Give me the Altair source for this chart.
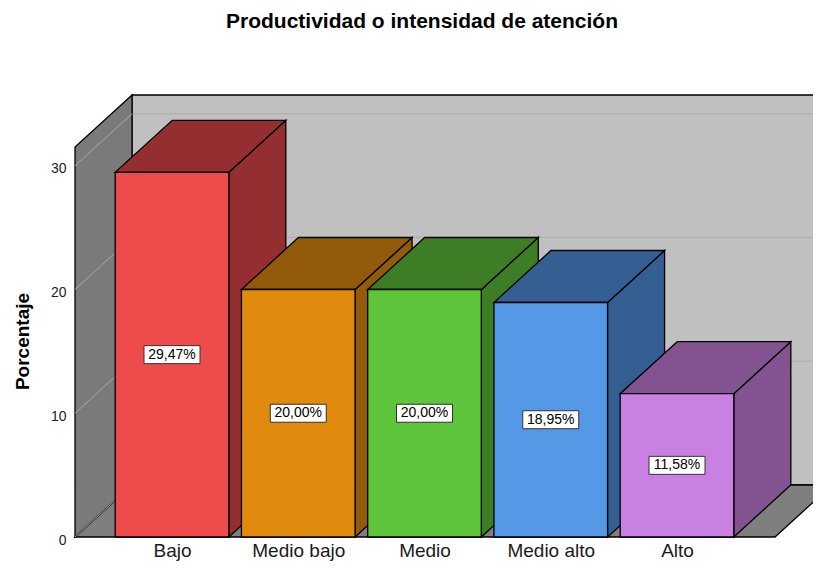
import json
import altair as alt
import pandas as pd

# ---- data ----
categories = ["Bajo", "Medio bajo", "Medio", "Medio alto", "Alto"]
values = [29.47, 20.00, 20.00, 18.95, 11.58]
front_colors = ["#EE4B4C", "#E08A0E", "#5EC43A", "#5599E6", "#C880E2"]
side_colors = ["#952E30", "#925A0A", "#3D7D26", "#355F92", "#835290"]
y_ticks = [0, 10, 20, 30]
title_text = "Productividad o intensidad de atención"
y_title = "Porcentaje"

# ---- layout constants (pixel geometry of the pseudo-3D frame) ----
PX_X = 126.25          # px per category step
PX_Y = 12.375          # px per percentage point
HALF = 0.45            # half bar width in category steps
DX = 57 / PX_X         # depth offset, x (data units)
DY = 52 / PX_Y         # depth offset, y (data units)
W, H = 738, 442
XL = (75 - 172) / PX_X
XR = XL + W / PX_X
YT = H / PX_Y
XF = (775 - 172) / PX_X
SW = 1.3

xs = alt.Scale(domain=[XL, XR], nice=False, zero=False)
ys = alt.Scale(domain=[0, YT], nice=False, zero=False)
side_scale = alt.Scale(domain=categories, range=side_colors)
front_scale = alt.Scale(domain=categories, range=front_colors)

FONT = "Liberation Sans"
label_expr = json.dumps(categories) + "[datum.value]"

x_axis = alt.Axis(
    values=list(range(len(categories))), labelExpr=label_expr,
    labelFont=FONT, labelFontSize=19, labelColor="#1A1A1A",
    ticks=False, domain=False, grid=False, labelPadding=19,
    labelBaseline="alphabetic", labelFlush=False, labelOverlap=False,
    title=None)
y_axis = alt.Axis(
    values=y_ticks, title=y_title, titleFont=FONT, titleFontSize=19,
    titleFontWeight="bold", titleColor="black", titleAngle=270,
    titleX=-47, titleY=246, titleAlign="center", titleBaseline="alphabetic",
    labelFont=FONT, labelFontSize=14, labelColor="#222222",
    labelPadding=9, labelOffset=3, ticks=False, domain=False, grid=False)


def X(field):
    return alt.X(field, scale=xs, axis=x_axis)


def Y(field, **kw):
    return alt.Y(field, scale=ys, axis=y_axis, **kw)


# ---- derived tables ----
front = pd.DataFrame({
    "cat": categories,
    "i": list(range(len(categories))),
    "v": values,
})
front["x0"] = front["i"] - HALF
front["x1"] = front["i"] + HALF
front["mid"] = front["v"] / 2
front["zero"] = 0.0
front["label"] = [f"{v:.2f}".replace(".", ",") + "%" for v in values]

top_rows, side_rows = [], []
for c, i, v in zip(categories, range(len(categories)), values):
    x0, x1 = i - HALF, i + HALF
    top_rows += [
        {"cat": c, "x": x0, "lo": v, "hi": v},
        {"cat": c, "x": x0 + DX, "lo": v, "hi": v + DY},
        {"cat": c, "x": x1, "lo": v, "hi": v + DY},
        {"cat": c, "x": x1 + DX, "lo": v + DY, "hi": v + DY},
    ]
    side_rows += [
        {"cat": c, "x": x1, "lo": 0, "hi": v},
        {"cat": c, "x": x1 + DX, "lo": DY, "hi": v + DY},
    ]
top = pd.DataFrame(top_rows)
side = pd.DataFrame(side_rows)

back_wall = pd.DataFrame([{"x": XL + DX, "x2": XR + 0.3, "y": DY, "y2": YT}])
left_wall = pd.DataFrame([
    {"x": XL, "lo": 0, "hi": YT - DY},
    {"x": XL + DX, "lo": DY, "hi": YT},
])
floor = pd.DataFrame([
    {"x": XL, "lo": 0, "hi": 0},
    {"x": XL + DX, "lo": 0, "hi": DY},
    {"x": XF, "lo": 0, "hi": DY},
    {"x": XF + DX, "lo": DY, "hi": DY},
])
back_grid = pd.DataFrame({"y": [t + DY for t in y_ticks[1:]]})
back_grid["x"] = XL + DX
back_grid["x2"] = XR + 0.3
left_grid = pd.DataFrame({"y": y_ticks, "y2": [t + DY for t in y_ticks]})
left_grid["x"] = XL
left_grid["x2"] = XL + DX

bw = alt.Chart(back_wall).mark_rect(fill="#C0C0C0", stroke="black", strokeWidth=SW).encode(
    x=X("x:Q"), x2="x2:Q", y=Y("y:Q"), y2="y2:Q")

bg = alt.Chart(back_grid).mark_rule(color="#B2B2B2", strokeWidth=1.5).encode(
    x=X("x:Q"), x2="x2:Q", y=Y("y:Q"))

fl = alt.Chart(floor).mark_area(fill="#7F7F7F", stroke="black", strokeWidth=SW).encode(
    x=X("x:Q"), y=Y("lo:Q", stack=None), y2="hi:Q")

lw = alt.Chart(left_wall).mark_area(fill="#7A7A7A", stroke="black", strokeWidth=SW).encode(
    x=X("x:Q"), y=Y("lo:Q", stack=None), y2="hi:Q")

lg = alt.Chart(left_grid).mark_rule(color="#A8A8A8", strokeWidth=1).encode(
    x=X("x:Q"), x2="x2:Q", y=Y("y:Q"), y2="y2:Q")

sd = alt.Chart(side).mark_area(stroke="black", strokeWidth=SW, opacity=1).encode(
    x=X("x:Q"), y=Y("lo:Q", stack=None), y2="hi:Q",
    color=alt.Color("cat:N", scale=side_scale, legend=None),
    detail="cat:N")

tp = alt.Chart(top).mark_area(stroke="black", strokeWidth=SW, opacity=1).encode(
    x=X("x:Q"), y=Y("lo:Q", stack=None), y2="hi:Q",
    fill=alt.Fill("cat:N", scale=side_scale, legend=None),
    detail="cat:N")

fr = alt.Chart(front).mark_rect(stroke="black", strokeWidth=SW, opacity=1).encode(
    x=X("x0:Q"), x2="x1:Q", y=Y("v:Q"), y2="zero:Q",
    fill=alt.Fill("cat:N", scale=front_scale, legend=None))

box = alt.Chart(front).mark_point(
    shape="M-1,-0.3214L1,-0.3214L1,0.3214L-1,0.3214Z", size=3136,
    filled=True, fill="white", stroke="#333333", strokeWidth=1, opacity=1).encode(
    x=X("i:Q"), y=Y("mid:Q"))

txt = alt.Chart(front).mark_text(font=FONT, fontSize=14, color="black",
                                 align="center", baseline="middle").encode(
    x=X("i:Q"), y=Y("mid:Q"), text="label:N")

chart = alt.layer(bw, bg, fl, lw, lg, sd, tp, fr, box, txt).resolve_scale(
    color="independent", fill="independent"
).properties(
    width=W, height=H,
    autosize=alt.AutoSizeParams(type="none"),
    padding={"left": 67, "top": 87, "right": 0, "bottom": 24},
    background="white",
    title=alt.TitleParams(title_text, font=FONT, fontSize=21, fontWeight="bold",
                          color="black", anchor="middle", frame="group",
                          baseline="alphabetic", offset=43, dx=-22),
).configure_view(strokeWidth=0)

chart.save("out.html", embed_options={"renderer": "svg", "actions": False})
